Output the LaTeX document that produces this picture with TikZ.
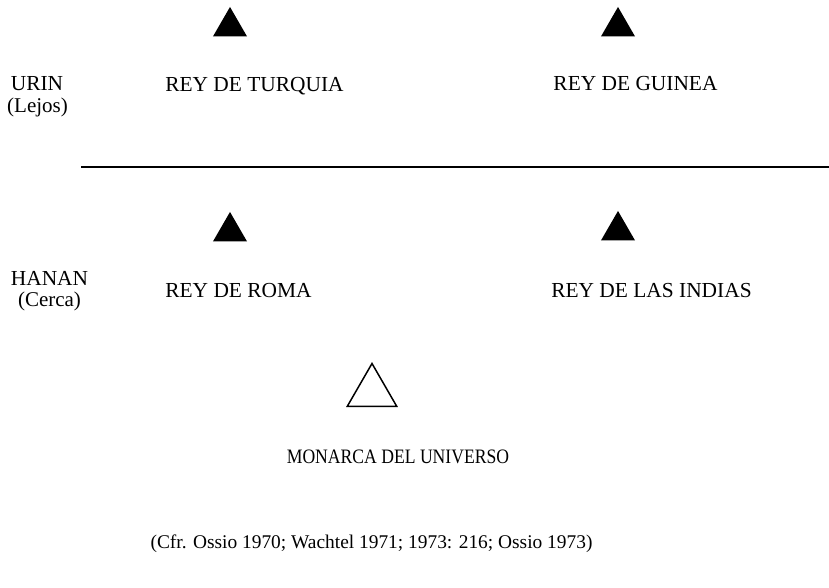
\documentclass[tikz,border=0pt]{standalone}
\usepackage{fontspec}
\setmainfont{Liberation Serif}
\newfontfamily\narrowserif[FakeStretch=0.86]{Liberation Serif}
\usetikzlibrary{shapes.geometric}

\tikzset{
    txt/.style={anchor=base, inner sep=0pt, font=\fontsize{21.4}{25}\selectfont},
    small/.style={anchor=base, inner sep=0pt, font=\fontsize{21}{25}\selectfont},
    cite/.style={anchor=base, inner sep=0pt, font=\fontsize{19.4}{23}\selectfont},
    king/.style={regular polygon, regular polygon sides=3, fill=black, inner sep=0pt, minimum size=39.3pt},
    monarch/.style={regular polygon, regular polygon sides=3, draw, line width=1.5pt, inner sep=0pt, minimum size=57pt},
}

\begin{document}
\begin{tikzpicture}[x=1pt, y=-1pt]
    \useasboundingbox (0,0) rectangle (829,587);
    % urin
    \node (urin) [txt] at (37,90) {URIN};
    \node (lejos) [small] at (37.5,112) {(Lejos)};
    \node (tk) [king] at (230,26.6) {};
    \node (turquia) [txt] at (254.5,91) {REY DE TURQUIA};
    \node (gk) [king] at (618,26.6) {};
    \node (guinea) [txt] at (635.5,90) {REY DE GUINEA};
    % dividing line
    \coordinate (l1) at (81,167);
    \coordinate (l2) at (829,167);
    \draw[line width=1.6pt] (l1) -- (l2);
    % hanan
    \node (hanan) [txt] at (49.5,285) {HANAN};
    \node (cerca) [small] at (49.5,306) {(Cerca)};
    \node (rk) [king] at (230,231.6) {};
    \node (roma) [txt] at (238.5,297) {REY DE ROMA};
    \node (ik) [king] at (618,230.6) {};
    \node (indias) [txt] at (651.5,297) {REY DE LAS INDIAS};
    % monarca
    \node (mk) [monarch] at (372,392) {};
    \node (monarca) [txt, font=\narrowserif\fontsize{20.5}{24}\selectfont] at (398,463) {MONARCA DEL UNIVERSO};
    \node (cfr) [cite] at (371.5,548) {(Cfr. Ossio 1970; Wachtel 1971; 1973: 216; Ossio 1973)};
\end{tikzpicture}
\end{document}
